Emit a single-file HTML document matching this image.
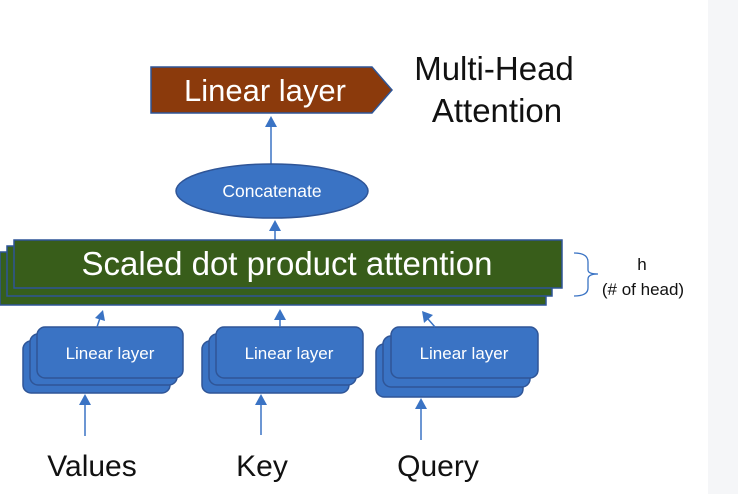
<!DOCTYPE html>
<html><head><style>
body{margin:0;width:738px;height:494px;background:#fff;overflow:hidden}
text{font-family:"Liberation Sans",sans-serif}
</style></head><body>
<svg width="738" height="494" viewBox="0 0 738 494" xmlns="http://www.w3.org/2000/svg">
<rect x="708" y="0" width="30" height="494" fill="#f5f6f8"/>
<!-- Linear layer top -->
<polygon points="151,67 372,67 392,90 372,113 151,113" fill="#8b3a0c" stroke="#2f5597" stroke-width="1.5"/>
<text x="265" y="101" font-size="31" fill="#fff" text-anchor="middle">Linear layer</text>
<text x="494" y="80" font-size="33" fill="#111" text-anchor="middle">Multi-Head</text>
<text x="497" y="122" font-size="33" fill="#111" text-anchor="middle">Attention</text>
<g stroke="#3a73c4" stroke-width="1.5">
<line x1="271" y1="165" x2="271" y2="125"/>
<line x1="275" y1="240" x2="275" y2="228"/>
</g>
<g fill="#3a73c4">
<polygon points="271,116 265,127 277,127"/>
<polygon points="275,220 269,231 281,231"/>
</g>
<ellipse cx="272" cy="191" rx="96" ry="27" fill="#3a73c4" stroke="#2f5597" stroke-width="1.5"/>
<text x="272" y="197" font-size="17.5" fill="#fff" text-anchor="middle">Concatenate</text>
<!-- green layers -->
<rect x="0" y="252" width="546" height="53" fill="#365f1c" stroke="#2f5597" stroke-width="1.5"/>
<rect x="7" y="246" width="545" height="50" fill="#365f1c" stroke="#2f5597" stroke-width="1.5"/>
<rect x="14" y="240" width="548" height="48" fill="#385d1a" stroke="#2f5597" stroke-width="1.5"/>
<text x="287" y="275" font-size="33" fill="#fff" text-anchor="middle">Scaled dot product attention</text>
<!-- bracket -->
<path d="M574,253 Q588,253 588,262 L588,270 Q588,274 598,274 Q588,274 588,279 L588,288 Q588,296 574,296" fill="none" stroke="#3a73c4" stroke-width="1.3"/>
<text x="642" y="270" font-size="17" fill="#111" text-anchor="middle">h</text>
<text x="643" y="295" font-size="17" fill="#111" text-anchor="middle">(# of head)</text>
<!-- groups -->
<g fill="#3a73c4" stroke="#2f5597" stroke-width="1.5">
<rect x="23" y="341" width="147" height="52" rx="8"/>
<rect x="30" y="334" width="147" height="51" rx="8"/>
<rect x="37" y="327" width="146" height="51" rx="8"/>
<rect x="202" y="341" width="147" height="52" rx="8"/>
<rect x="209" y="334" width="147" height="51" rx="8"/>
<rect x="216" y="327" width="147" height="51" rx="8"/>
<rect x="376" y="344" width="147" height="53" rx="8"/>
<rect x="383" y="336" width="147" height="51" rx="8"/>
<rect x="391" y="327" width="147" height="51" rx="8"/>
</g>
<g font-size="17" fill="#fff" text-anchor="middle">
<text x="110" y="359">Linear layer</text>
<text x="289" y="359">Linear layer</text>
<text x="464" y="359">Linear layer</text>
</g>
<g stroke="#3a73c4" stroke-width="1.5">
<line x1="97" y1="327" x2="100" y2="318"/>
<line x1="280" y1="327" x2="280" y2="318"/>
<line x1="435" y1="327" x2="428" y2="319"/>
<line x1="85" y1="436" x2="85" y2="403"/>
<line x1="261" y1="435" x2="261" y2="403"/>
<line x1="421" y1="440" x2="421" y2="407"/>
</g>
<g fill="#3a73c4">
<polygon points="103,310 95,318 105,321"/>
<polygon points="280,309 274,320 286,320"/>
<polygon points="422,311 424,323 433,315"/>
<polygon points="85,394 79,405 91,405"/>
<polygon points="261,394 255,405 267,405"/>
<polygon points="421,398 415,409 427,409"/>
</g>
<g font-size="30" fill="#111" text-anchor="middle">
<text x="92" y="476">Values</text>
<text x="262" y="476">Key</text>
<text x="438" y="476">Query</text>
</g>
</svg>
</body></html>
